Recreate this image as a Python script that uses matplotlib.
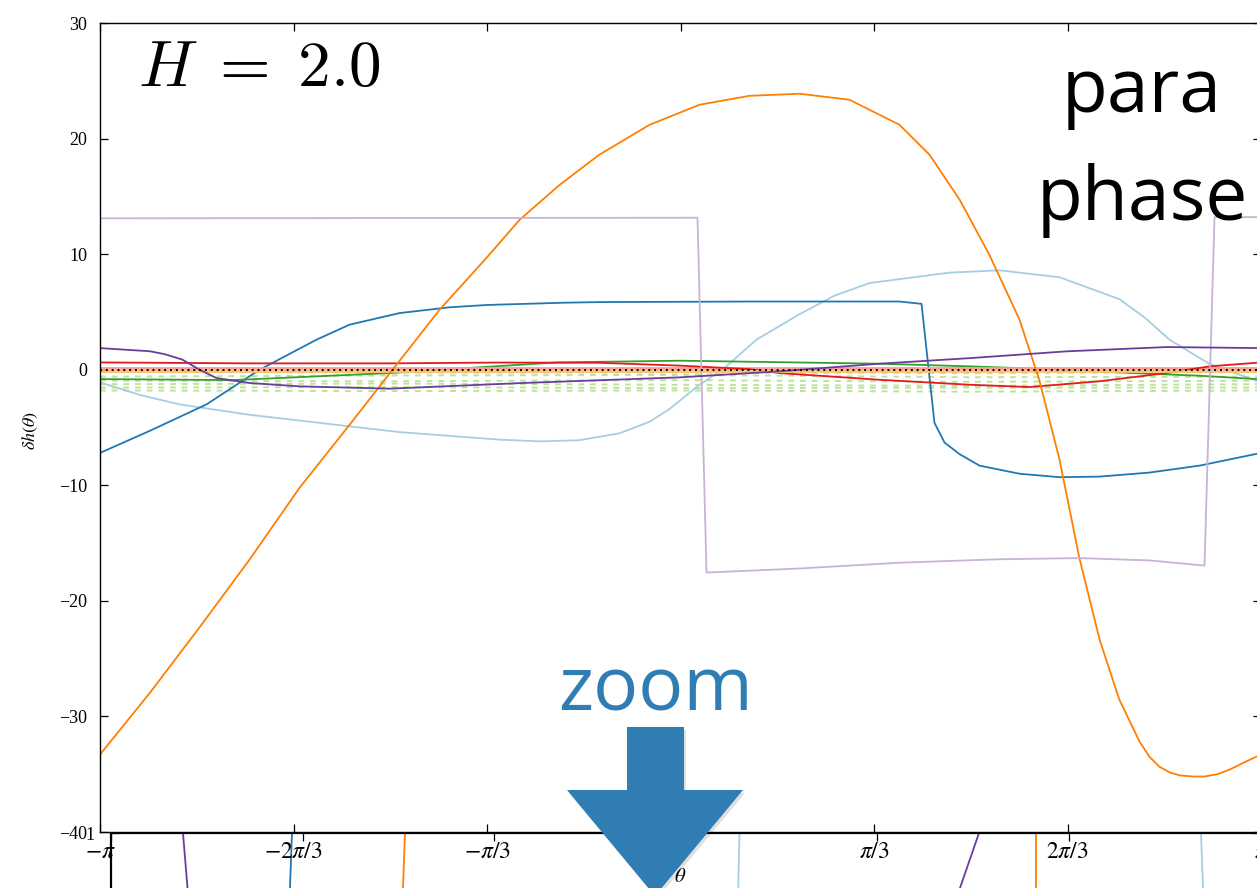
import numpy as np
import matplotlib
matplotlib.use("Agg")
import matplotlib.pyplot as plt
from matplotlib.patches import Polygon

plt.rcParams['font.family'] = ['Liberation Serif', 'DejaVu Serif']
plt.rcParams['mathtext.fontset'] = 'stix'
plt.rcParams['axes.unicode_minus'] = True

# ---------------- data (theta in units of pi) ----------------
xtick_vals = [-1, -2/3, -1/3, 0, 1/3, 2/3, 1]
xtick_labels = [r'$-\pi$', r'$-2\pi/3$', r'$-\pi/3$', r'$0$', r'$\pi/3$', r'$2\pi/3$', r'$\pi$']
ytick_vals = [-40, -30, -20, -10, 0, 10, 20, 30]

lightblue_t = [-1.0, -0.93, -0.863, -0.7425, -0.656, -0.484, -0.312, -0.243, -0.174, -0.105, -0.053,
               -0.019, 0.0327, 0.0724, 0.1309, 0.205, 0.265, 0.3256, 0.4634, 0.5495, 0.6529, 0.7562,
               0.80, 0.8424, 0.9113, 1.0]
lightblue_v = [-1.1, -2.2, -3.0, -3.9, -4.4, -5.4, -6.05, -6.2, -6.1, -5.5, -4.5,
               -3.4, -1.3, 0.0, 2.6, 4.8, 6.4, 7.5, 8.4, 8.6, 8.0, 6.1,
               4.5, 2.6, 0.5, -1.1]

blue_t = [-1.0, -0.9147, -0.8165, -0.7252, -0.627, -0.570, -0.4841, -0.398, -0.3342, -0.2, -0.1395, 0.1189, 0.3773,
          0.4152, 0.4375, 0.4548, 0.4806, 0.5151, 0.584, 0.6529, 0.7218, 0.8079, 0.8941, 1.0]
blue_v = [-7.2, -5.3, -3.0, 0.0, 2.6, 3.9, 4.9, 5.4, 5.6, 5.8, 5.85, 5.9, 5.9,
          5.7, -4.6, -6.3, -7.3, -8.3, -9.0, -9.3, -9.25, -8.9, -8.3, -7.2]

orange_t = [-1.0, -0.9147, -0.8286, -0.7425, -0.656, -0.570, -0.496, -0.415, -0.334, -0.277,
            -0.208, -0.140, -0.053, 0.033, 0.119, 0.205, 0.291, 0.377, 0.429, 0.481,
            0.532, 0.584, 0.618, 0.653, 0.687, 0.722, 0.756, 0.791, 0.808, 0.825, 0.843, 0.860,
            0.882, 0.903, 0.925, 0.946, 0.97, 1.0]
orange_v = [-33.3, -28.0, -22.3, -16.44, -10.2, -4.76, 0.0, 5.19, 9.69, 12.98,
            16.0, 18.6, 21.2, 22.93, 23.7, 23.88, 23.36, 21.2, 18.6, 14.7,
            9.95, 4.33, -0.87, -7.79, -16.27, -23.36, -28.55, -32.2, -33.5, -34.35, -34.85, -35.1,
            -35.2, -35.2, -35.0, -34.6, -34.0, -33.3]

lightpurple_t = [-1.0, 0.0293, 0.0448, 0.205, 0.3773, 0.5495, 0.6873, 0.8079, 0.9027, 0.9199, 1.0]
lightpurple_v = [13.1, 13.15, -17.55, -17.2, -16.7, -16.4, -16.3, -16.5, -16.95, 13.2, 13.2]

red_t = [-1.0, -0.7425, -0.5013, -0.3118, -0.1395, 0.0, 0.1189, 0.1705, 0.3428, 0.4978,
         0.6012, 0.7218, 0.8372, 0.9113, 1.0]
red_v = [0.63, 0.55, 0.55, 0.62, 0.6, 0.35, 0.05, -0.29, -0.87, -1.3,
         -1.5, -1.0, -0.29, 0.29, 0.63]

green_t = [-1.0, -0.7717, -0.5013, -0.2136, 0.0, 0.3428, 0.4978, 0.6357, 0.7804, 0.8941, 1.0]
green_v = [-0.81, -0.9, -0.29, 0.63, 0.78, 0.52, 0.29, 0.05, -0.29, -0.52, -0.83]

purple_t = [-1.0, -0.9147, -0.8889, -0.8579, -0.8286, -0.7993, -0.7425, -0.656, -0.5013, -0.2722,
            0.0, 0.1705, 0.3428, 0.4978, 0.665, 0.8372, 1.0]
purple_v = [1.87, 1.6, 1.35, 0.87, 0.0, -0.72, -1.15, -1.44, -1.64, -1.15,
            -0.66, -0.14, 0.52, 1.0, 1.59, 1.96, 1.87]

pink_t = [-1.0, 1.0]
pink_v = [0.12, 0.12]
lightorange_t = [-1.0, 1.0]
lightorange_v = [-0.08, -0.08]

dashed_t = [-1.0, -0.5, 0.0, 0.5, 1.0]
dashed_v = [
    [-0.2, -0.25, -0.25, -0.3, -0.2],
    [-0.6, -0.5, -0.45, -0.65, -0.6],
    [-0.95, -1.0, -0.9, -1.05, -0.95],
    [-1.25, -1.2, -1.3, -1.4, -1.25],
    [-1.55, -1.5, -1.6, -1.55, -1.55],
    [-1.8, -1.85, -1.8, -1.9, -1.8],
]

zero_t = [-1.0, 1.0]
zero_v = [0.0, 0.0]

# lower ("zoomed") panel: steep crossings visible near its top (value 1.0 -> 0.8)
zoom_vals = [1.0, 0.8]
zoom_purple_a_t = [-0.8747, -0.8618]
zoom_blue_a_t = [-0.6850, -0.6907]
zoom_orange_a_t = [-0.4883, -0.4940]
zoom_lightblue_a_t = [0.0940, 0.0903]
zoom_purple_b_t = [0.5109, 0.4567]
zoom_orange_b_t = [0.6101, 0.6101]
zoom_lightblue_b_t = [0.8973, 0.9030]

# ---------------- figure ----------------
W, H = 1257, 888
fig = plt.figure(figsize=(W / 100, H / 100), dpi=100)


def fx(x):
    return x / W


def fy(y):
    return 1 - y / H


ax2 = fig.add_axes([fx(111), fy(833) - 90 / H, 1149 / W, 90 / H])
ax = fig.add_axes([fx(100), fy(832), 1161 / W, 809 / H])
ax2.patch.set_alpha(0)

LW = 1.3
solid = [
    (lightblue_t, lightblue_v, '#a6cee3'),
    (blue_t, blue_v, '#1f78b4'),
    (green_t, green_v, '#33a02c'),
    (pink_t, pink_v, '#fb9a99'),
    (red_t, red_v, '#e31a1c'),
    (lightorange_t, lightorange_v, '#fdbf6f'),
    (orange_t, orange_v, '#ff7f00'),
    (lightpurple_t, lightpurple_v, '#cab2d6'),
    (purple_t, purple_v, '#6a3d9a'),
]

for dv in dashed_v:
    ax.plot(np.pi * np.array(dashed_t), dv, color='#b2df8a', lw=1.4, alpha=0.85,
            linestyle=(0, (3, 3)))
for t, v, c in solid:
    lw = 2.0 if c in ('#fb9a99', '#fdbf6f') else LW
    ax.plot(np.pi * np.array(t), v, color=c, lw=lw)
ax.plot(np.pi * np.array(zero_t), zero_v, color='black', lw=1.4, linestyle=(0, (1, 2)))

zoom_lines = [
    (zoom_purple_a_t, '#6a3d9a'),
    (zoom_blue_a_t, '#1f78b4'),
    (zoom_orange_a_t, '#ff7f00'),
    (zoom_lightblue_a_t, '#a6cee3'),
    (zoom_purple_b_t, '#6a3d9a'),
    (zoom_orange_b_t, '#ff7f00'),
    (zoom_lightblue_b_t, '#a6cee3'),
]
for t, c in zoom_lines:
    ax2.plot(np.pi * np.array(t), zoom_vals, color=c, lw=LW)

ax.set_xlim(-np.pi, np.pi)
ax.set_ylim(-40, 30)
ax.set_xticks(np.pi * np.array(xtick_vals))
ax.set_xticklabels(xtick_labels)
ax.set_yticks(ytick_vals)
ax.tick_params(direction='in', top=True, right=True, length=6, width=0.9,
               labelsize=17, pad=7)
ax.tick_params(axis='y', labelsize=13, pad=9)
ax.set_xlabel(r'$\theta$', fontsize=15, labelpad=4)
ax.set_ylabel(r'$\delta h(\theta)$', fontsize=13)
ax.yaxis.set_label_coords((40 - 100) / 1161, (832 - 430) / 809)
for s in ax.spines.values():
    s.set_linewidth(1.0)

ax2.set_xlim(-np.pi, np.pi)
ax2.set_ylim(0.8, 1.0)
ax2.set_xticks(np.pi * np.array(xtick_vals))
ax2.set_xticklabels([])
ax2.set_yticks([1])
ax2.set_yticklabels(['1'])
ax2.tick_params(direction='in', top=True, right=True, length=6, width=0.9,
                labelsize=13, pad=12)
ax2.spines['bottom'].set_visible(False)
for s in ax2.spines.values():
    s.set_linewidth(1.6)

# annotations
fig.text(fx(259), fy(70), r'$H\;=\;2.0$', fontsize=47, ha='center', va='center',
         math_fontfamily='cm')
fig.text(fx(1142), fy(112), 'para', fontsize=54, ha='center', va='baseline',
         family='Open Sans')
fig.text(fx(1142), fy(220), 'phase', fontsize=54, ha='center', va='baseline',
         family='Open Sans')
fig.text(fx(656), fy(710), 'zoom', fontsize=54, ha='center', va='baseline',
         family='Open Sans', color='#2f7db3')

arrow_px = [(627, 727), (684, 727), (684, 790), (743, 790), (655, 896), (567, 790), (627, 790)]
shadow = Polygon([(fx(x + 2), fy(y + 3)) for x, y in arrow_px], closed=True,
                 transform=fig.transFigure, facecolor='#000000', alpha=0.12,
                 edgecolor='none', zorder=4)
arrow = Polygon([(fx(x), fy(y)) for x, y in arrow_px], closed=True,
                transform=fig.transFigure, facecolor='#2f7db3', edgecolor='none', zorder=5)
fig.add_artist(shadow)
fig.add_artist(arrow)

fig.savefig('out.png', dpi=100)
